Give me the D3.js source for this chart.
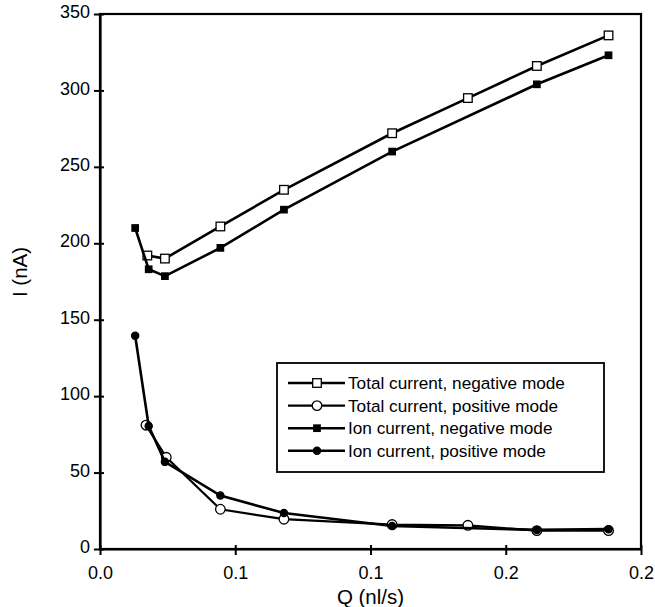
<!DOCTYPE html>
<html>
<head>
<meta charset="utf-8">
<script src="https://cdn.jsdelivr.net/npm/d3@7"></script>
<style>
  body { margin: 0; background: #fff; }
  svg { font-family: "Liberation Sans", Arial, sans-serif; }
</style>
</head>
<body>
<svg id="chart" width="655" height="607"></svg>
<script>
// values
const totNegQ = [0.0175, 0.024, 0.0445, 0.068, 0.108, 0.136, 0.1615, 0.188]
const totNegI = [192, 190, 211, 235, 272, 295, 316, 336]
const totPosQ = [0.017, 0.0245, 0.0445, 0.068, 0.108, 0.136, 0.1615, 0.188]
const totPosI = [81, 60, 26, 19.5, 16, 15.5, 12, 12]
const ionNegQ = [0.013, 0.018, 0.024, 0.0445, 0.068, 0.108, 0.1615, 0.188]
const ionNegI = [210, 183, 178.5, 197, 222, 260, 304, 323]
const ionPosQ = [0.013, 0.018, 0.024, 0.0445, 0.068, 0.108, 0.1615, 0.188]
const ionPosI = [139.5, 80.5, 57, 35, 23.5, 15, 12.5, 13]

const xTicks = [0, 0.05, 0.1, 0.15, 0.2]
const xTickLabels = ["0.0", "0.1", "0.1", "0.2", "0.2"]
const yTicks = [0, 50, 100, 150, 200, 250, 300, 350]
const legendLabels = ["Total current, negative mode", "Total current, positive mode",
  "Ion current, negative mode", "Ion current, positive mode"]

const svg = d3.select('#chart')
const m = {left: 100, right: 641, top: 14, bottom: 549}

const x = d3.scaleLinear().domain([0, 0.2]).range([m.left, m.right])
const y = d3.scaleLinear().domain([0, 350]).range([m.bottom, m.top])

const series = [
  {q: totNegQ, v: totNegI, mark: 'square', fill: '#fff', w: 2.6},
  {q: totPosQ, v: totPosI, mark: 'circle', fill: '#fff', w: 2.2},
  {q: ionNegQ, v: ionNegI, mark: 'square', fill: '#000', w: 2.6},
  {q: ionPosQ, v: ionPosI, mark: 'circle', fill: '#000', w: 2.6}
]

// frame
svg.append('rect')
  .attr('x', m.left).attr('y', m.top)
  .attr('width', m.right - m.left).attr('height', m.bottom - m.top)
  .attr('fill', 'none').attr('stroke', '#000').attr('stroke-width', 2.2)

// axes
const xAxis = svg.append('g')
  .attr('transform', `translate(0,${m.bottom})`)
  .call(d3.axisBottom(x).tickValues(xTicks).tickSizeInner(6).tickSizeOuter(0).tickPadding(11)
    .tickFormat((d, i) => xTickLabels[i]))
const yAxis = svg.append('g')
  .attr('transform', `translate(${m.left},0)`)
  .call(d3.axisLeft(y).tickValues(yTicks).tickSizeInner(6).tickSizeOuter(0).tickPadding(4))

;[xAxis, yAxis].forEach(a => {
  a.select('.domain').attr('stroke-width', 2.2)
  a.selectAll('.tick line').attr('stroke-width', 2)
  a.selectAll('.tick text').attr('font-size', 18).attr('fill', '#000')
    .attr('font-family', '"Liberation Sans", Arial, sans-serif')
})
// ticks cross the axis line
xAxis.selectAll('.tick line').attr('y1', -4)
yAxis.selectAll('.tick line').attr('x1', 4)
yAxis.selectAll('.tick text').attr('dy', '0.2em')

svg.append('text')
  .attr('x', (m.left + m.right) / 2).attr('y', 604)
  .attr('text-anchor', 'middle').attr('font-size', 20.5)
  .text('Q (nl/s)')
svg.append('text')
  .attr('transform', `translate(27,272) rotate(-90)`)
  .attr('text-anchor', 'middle').attr('font-size', 20.5)
  .text('I (nA)')

function drawMark(g, s, cx, cy) {
  if (s.mark === 'square') {
    const h = s.fill === '#000' ? 3.2 : 4.3
    g.append('rect').attr('x', cx - h).attr('y', cy - h)
      .attr('width', 2 * h).attr('height', 2 * h)
      .attr('fill', s.fill).attr('stroke', '#000').attr('stroke-width', 1.3)
  } else {
    g.append('circle').attr('cx', cx).attr('cy', cy)
      .attr('r', s.fill === '#000' ? 3.6 : 4.8)
      .attr('fill', s.fill).attr('stroke', '#000').attr('stroke-width', 1.3)
  }
}

const line = d3.line().x(d => x(d[0])).y(d => y(d[1]))
series.forEach(s => {
  const pts = s.q.map((q, i) => [q, s.v[i]])
  svg.append('path').datum(pts).attr('d', line)
    .attr('fill', 'none').attr('stroke', '#000').attr('stroke-width', s.w)
  const g = svg.append('g')
  pts.forEach(p => drawMark(g, s, x(p[0]), y(p[1])))
})

// legend
const lg = svg.append('g')
lg.append('rect').attr('x', 277).attr('y', 363).attr('width', 327).attr('height', 109)
  .attr('fill', '#fff').attr('stroke', '#000').attr('stroke-width', 1.8)
legendLabels.forEach((t, i) => {
  const s = series[i]
  const ly = 383 + i * 22.6
  lg.append('line').attr('x1', 288).attr('x2', 345).attr('y1', ly).attr('y2', ly)
    .attr('stroke', '#000').attr('stroke-width', s.w)
  drawMark(lg, s, 317, ly)
  lg.append('text').attr('x', 348).attr('y', ly + 6)
    .attr('font-size', 17.2).text(t)
})
</script>
</body>
</html>
